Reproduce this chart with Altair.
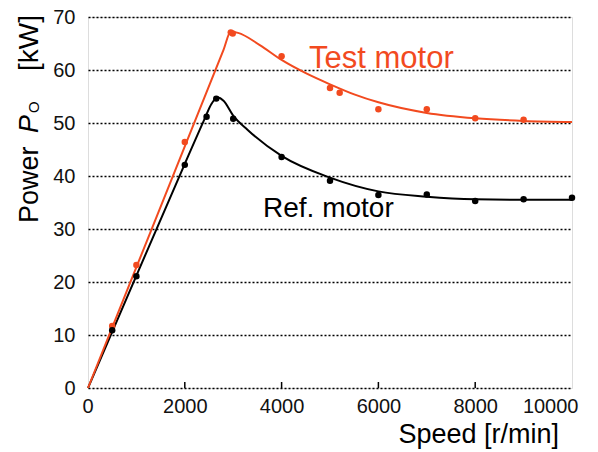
import altair as alt
import pandas as pd

# Measured points
test_speed = [500, 1000, 2000, 2950, 2990, 4000, 5000, 5200, 6000, 7000, 8000, 9000]
test_power = [11.7, 23.2, 46.4, 67.1, 66.9, 62.6, 56.6, 55.7, 52.6, 52.6, 50.9, 50.6]
ref_speed = [500, 1000, 2000, 2450, 2650, 3000, 4000, 5000, 6000, 7000, 8000, 9000, 10000]
ref_power = [10.9, 21.1, 42.1, 51.2, 54.6, 50.8, 43.6, 39.1, 36.4, 36.5, 35.3, 35.6, 35.9]

# Fitted curves
test_fit_speed = [0, 1000, 2000, 2800, 2950, 3100, 3550, 4000, 4500, 5000, 5500, 6000, 7000, 8000, 9000, 10000]
test_fit_power = [0, 22.8, 45.6, 63.8, 67.2, 67.0, 64.7, 61.9, 59.4, 57.3, 55.4, 53.9, 51.9, 50.9, 50.4, 50.2]
ref_fit_speed = [0, 1000, 2000, 2400, 2550, 2680, 2800, 3000, 3300, 4000, 5000, 6000, 7000, 8000, 9000, 10000]
ref_fit_power = [0, 21.2, 42.3, 50.6, 53.6, 54.8, 54.2, 51.4, 48.7, 43.8, 39.7, 37.1, 36.1, 35.6, 35.5, 35.5]

x_ticks = [0, 2000, 4000, 6000, 8000, 10000]
inner_ticks = [2000, 4000, 6000, 8000]
y_ticks = [0, 10, 20, 30, 40, 50, 60, 70]

ORANGE = "#F24A1F"
FONT = "Liberation Sans"

pts = pd.DataFrame({
    "speed": test_speed + ref_speed,
    "power": test_power + ref_power,
    "series": ["Test"] * len(test_speed) + ["Ref"] * len(ref_speed),
})
ref_fit = pd.DataFrame({"speed": ref_fit_speed, "power": ref_fit_power})
test_fit = pd.DataFrame({"speed": test_fit_speed, "power": test_fit_power})

xs = alt.Scale(domain=[0, 10000], nice=False)
ys = alt.Scale(domain=[0, 70], nice=False)
color = alt.Color("series:N", scale=alt.Scale(domain=["Test", "Ref"], range=[ORANGE, "black"]), legend=None)

x_axis = alt.Axis(values=x_ticks, format="d", labelFontSize=20, labelFont=FONT, labelColor="#111",
                  ticks=False, domain=False, grid=False, labelPadding=8, labelFlush=True,
                  labelFlushOffset=6, title=None)
y_axis = alt.Axis(values=y_ticks, labelFontSize=20, labelFont=FONT, labelColor="#111",
                  ticks=False, domain=False, grid=True, gridColor="black", gridDash=[2, 2],
                  gridWidth=1.4, labelPadding=13, title=None)

base_axes = alt.Chart(pts).mark_point(opacity=0).encode(
    x=alt.X("speed:Q", scale=xs, axis=x_axis),
    y=alt.Y("power:Q", scale=ys, axis=y_axis),
)

ref_line = alt.Chart(ref_fit).mark_line(color="black", strokeWidth=2, interpolate="monotone").encode(
    x=alt.X("speed:Q", scale=xs), y=alt.Y("power:Q", scale=ys))
test_line = alt.Chart(test_fit).mark_line(color=ORANGE, strokeWidth=2, interpolate="monotone").encode(
    x=alt.X("speed:Q", scale=xs), y=alt.Y("power:Q", scale=ys))

points = alt.Chart(pts).mark_circle(size=42, opacity=1).encode(
    x=alt.X("speed:Q", scale=xs), y=alt.Y("power:Q", scale=ys), color=color)

ticks = alt.Chart(pd.DataFrame({"speed": inner_ticks})).mark_rule(color="black", strokeWidth=1.5).encode(
    x=alt.X("speed:Q", scale=xs), y=alt.value(371), y2=alt.value(365))

one = alt.Data(values=[{}])

def label(text, x, y, size, color="black", angle=0, style="normal", align="left"):
    return alt.Chart(one).mark_text(text=text, fontSize=size, font=FONT, color=color, angle=angle,
                                    fontStyle=style, align=align, baseline="alphabetic").encode(
        x=alt.value(x), y=alt.value(y))

annotations = [
    label("Test motor", 221, 51, 31, ORANGE),
    label("Ref. motor", 175, 200, 28),
    label("Speed [r/min]", 471, 426, 27, align="right"),
    label("Power", -50, 206, 27, angle=270),
    label("P", -50, 116, 27, angle=270, style="italic"),
    label("O", -49, 96, 15, angle=270),
    label("[kW]", -50, 54, 28, angle=270),
]

chart = alt.layer(base_axes, ticks, ref_line, test_line, points, *annotations).properties(
    width=484, height=371,
    padding={"left": 88, "top": 17, "right": 26, "bottom": 64},
    autosize=alt.AutoSizeParams(type="none"),
).configure_view(stroke="black", strokeWidth=2).configure(background="white")

chart.save("out.html", embed_options={"renderer": "svg", "actions": False})
